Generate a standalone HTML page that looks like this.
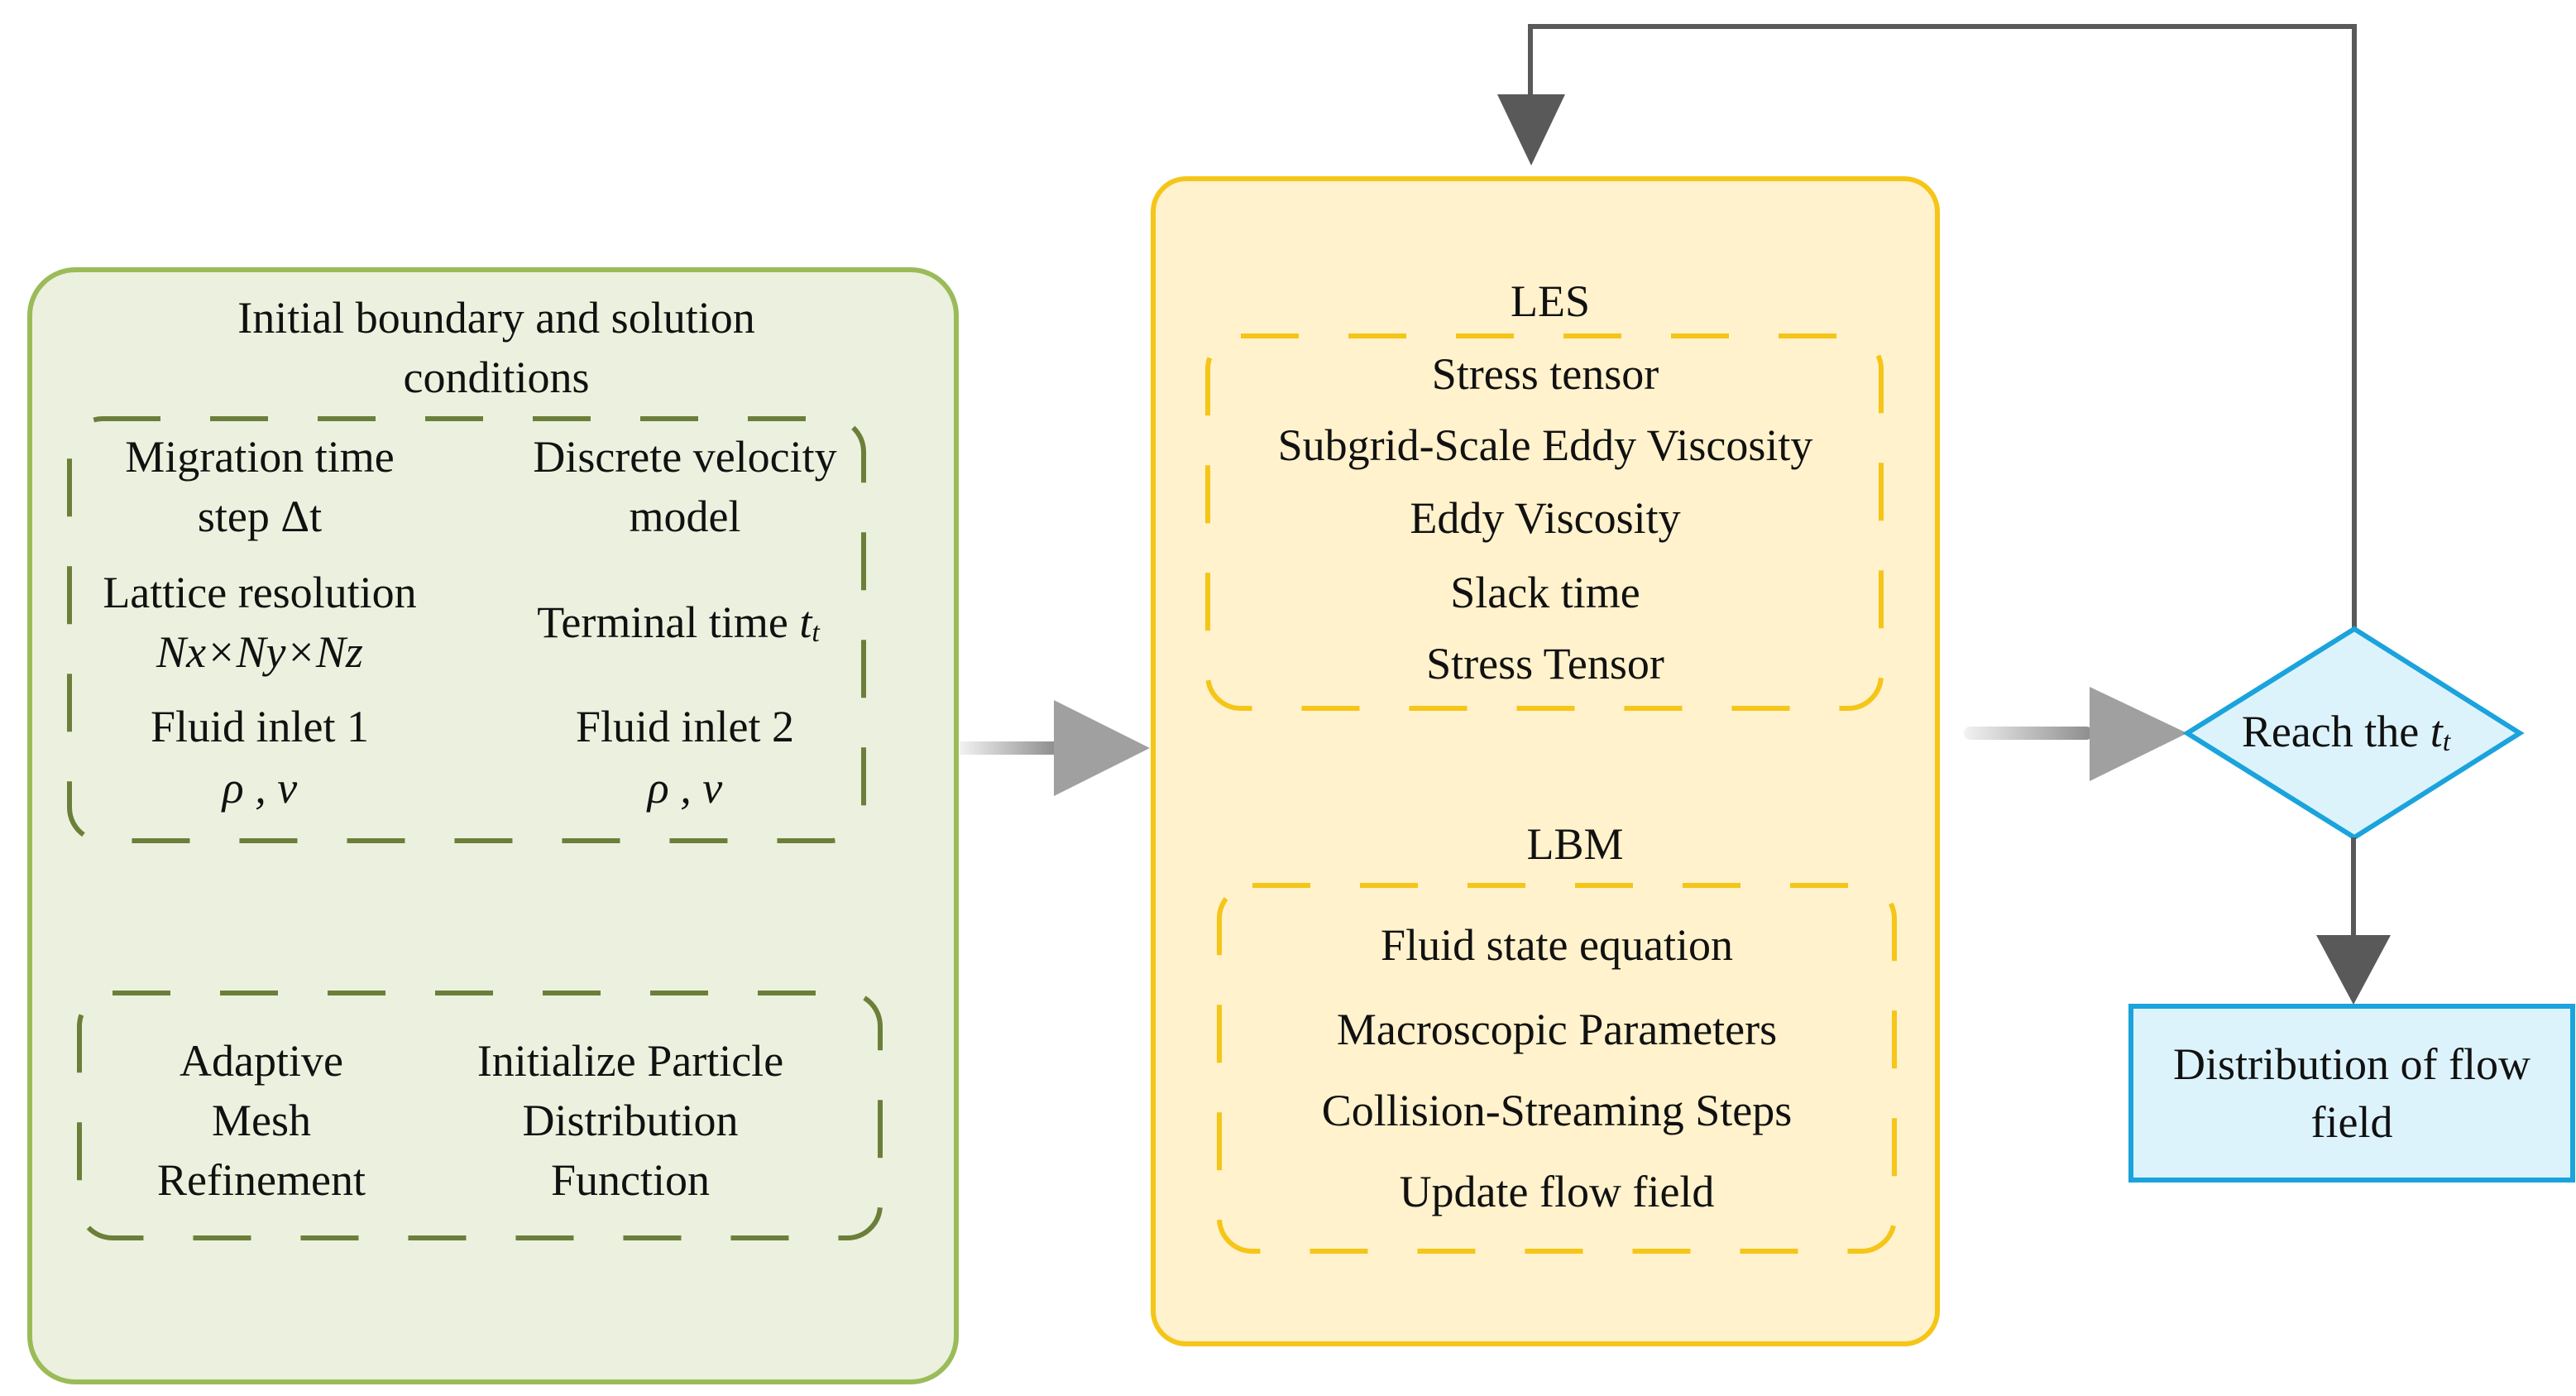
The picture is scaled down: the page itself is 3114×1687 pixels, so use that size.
<!DOCTYPE html>
<html><head><meta charset="utf-8"><style>
html,body{margin:0;padding:0;background:#fff}
svg{display:block}
text{font-family:"Liberation Serif",serif;font-size:54px;fill:#111}
</style></head><body>
<svg width="3114" height="1687" viewBox="0 0 3114 1687" xmlns="http://www.w3.org/2000/svg">
<defs>
<linearGradient id="g1" x1="0" x2="1" y1="0" y2="0"><stop offset="0" stop-color="#f2f2f2"/><stop offset="1" stop-color="#8c8c8c"/></linearGradient>
</defs>
<g text-anchor="middle" dominant-baseline="central">
<!-- green box -->
<rect x="36" y="326" width="1120" height="1344" rx="55" fill="#ebf1de" stroke="#9bbb59" stroke-width="6"/>
<text x="600" y="384">Initial boundary and solution</text>
<text x="600" y="456">conditions</text>
<rect x="84" y="506" width="960" height="510" rx="40" fill="none" stroke="#6b7f3a" stroke-width="6" stroke-dasharray="70,60"/>
<text x="314" y="552">Migration time</text>
<text x="314" y="624">step Δt</text>
<text x="828" y="552">Discrete velocity</text>
<text x="828" y="624">model</text>
<text x="314" y="716">Lattice resolution</text>
<text x="314" y="788" font-style="italic">Nx×Ny×Nz</text>
<text x="820" y="752">Terminal time <tspan font-style="italic">t</tspan><tspan font-style="italic" font-size="34" dy="12">t</tspan></text>
<text x="314" y="878">Fluid inlet 1</text>
<text x="314" y="952" font-style="italic">ρ , v</text>
<text x="828" y="878">Fluid inlet 2</text>
<text x="828" y="952" font-style="italic">ρ , v</text>
<rect x="96" y="1200" width="968" height="296" rx="40" fill="none" stroke="#6b7f3a" stroke-width="6" stroke-dasharray="70,60"/>
<text x="316" y="1282">Adaptive</text>
<text x="316" y="1354">Mesh</text>
<text x="316" y="1426">Refinement</text>
<text x="762" y="1282">Initialize Particle</text>
<text x="762" y="1354">Distribution</text>
<text x="762" y="1426">Function</text>
<!-- arrow 1 -->
<rect x="1160" y="896" width="118" height="16" fill="url(#g1)"/>
<polygon points="1274,846 1390,904 1274,962" fill="#a0a0a0"/>
<!-- yellow box -->
<rect x="1394" y="216" width="948" height="1408" rx="40" fill="#fff2cc" stroke="#f5c518" stroke-width="6"/>
<text x="1874" y="364">LES</text>
<rect x="1460" y="406" width="814" height="450" rx="40" fill="none" stroke="#f5c518" stroke-width="6" stroke-dasharray="70,60"/>
<text x="1868" y="452">Stress tensor</text>
<text x="1868" y="538">Subgrid-Scale Eddy Viscosity</text>
<text x="1868" y="626">Eddy Viscosity</text>
<text x="1868" y="716">Slack time</text>
<text x="1868" y="802">Stress Tensor</text>
<text x="1904" y="1020">LBM</text>
<rect x="1474" y="1070" width="816" height="442" rx="40" fill="none" stroke="#f5c518" stroke-width="6" stroke-dasharray="70,60"/>
<text x="1882" y="1142">Fluid state equation</text>
<text x="1882" y="1244">Macroscopic Parameters</text>
<text x="1882" y="1342">Collision-Streaming Steps</text>
<text x="1882" y="1440">Update flow field</text>
<!-- arrow 2 -->
<rect x="2374" y="878" width="156" height="16" rx="8" fill="url(#g1)"/>
<polygon points="2526,830 2644,886 2526,944" fill="#a0a0a0"/>
<!-- loop -->
<polyline points="2846,760 2846,32 1850,32 1850,120" fill="none" stroke="#595959" stroke-width="6"/>
<polygon points="1810,114 1892,114 1851,200" fill="#595959"/>
<!-- diamond -->
<polygon points="2644,886 2846,760 3046,886 2846,1012" fill="#ddf3fc" stroke="#1aa3dc" stroke-width="6"/>
<text x="2836" y="884">Reach the <tspan font-style="italic">t</tspan><tspan font-style="italic" font-size="34" dy="12">t</tspan></text>
<line x1="2845" y1="1012" x2="2845" y2="1140" stroke="#595959" stroke-width="6"/>
<polygon points="2800,1130 2890,1130 2845,1214" fill="#595959"/>
<rect x="2576" y="1216" width="534" height="210" fill="#ddf3fc" stroke="#1aa3dc" stroke-width="6"/>
<text x="2843" y="1286">Distribution of flow</text>
<text x="2843" y="1356">field</text>
</g>
</svg>
</body></html>
